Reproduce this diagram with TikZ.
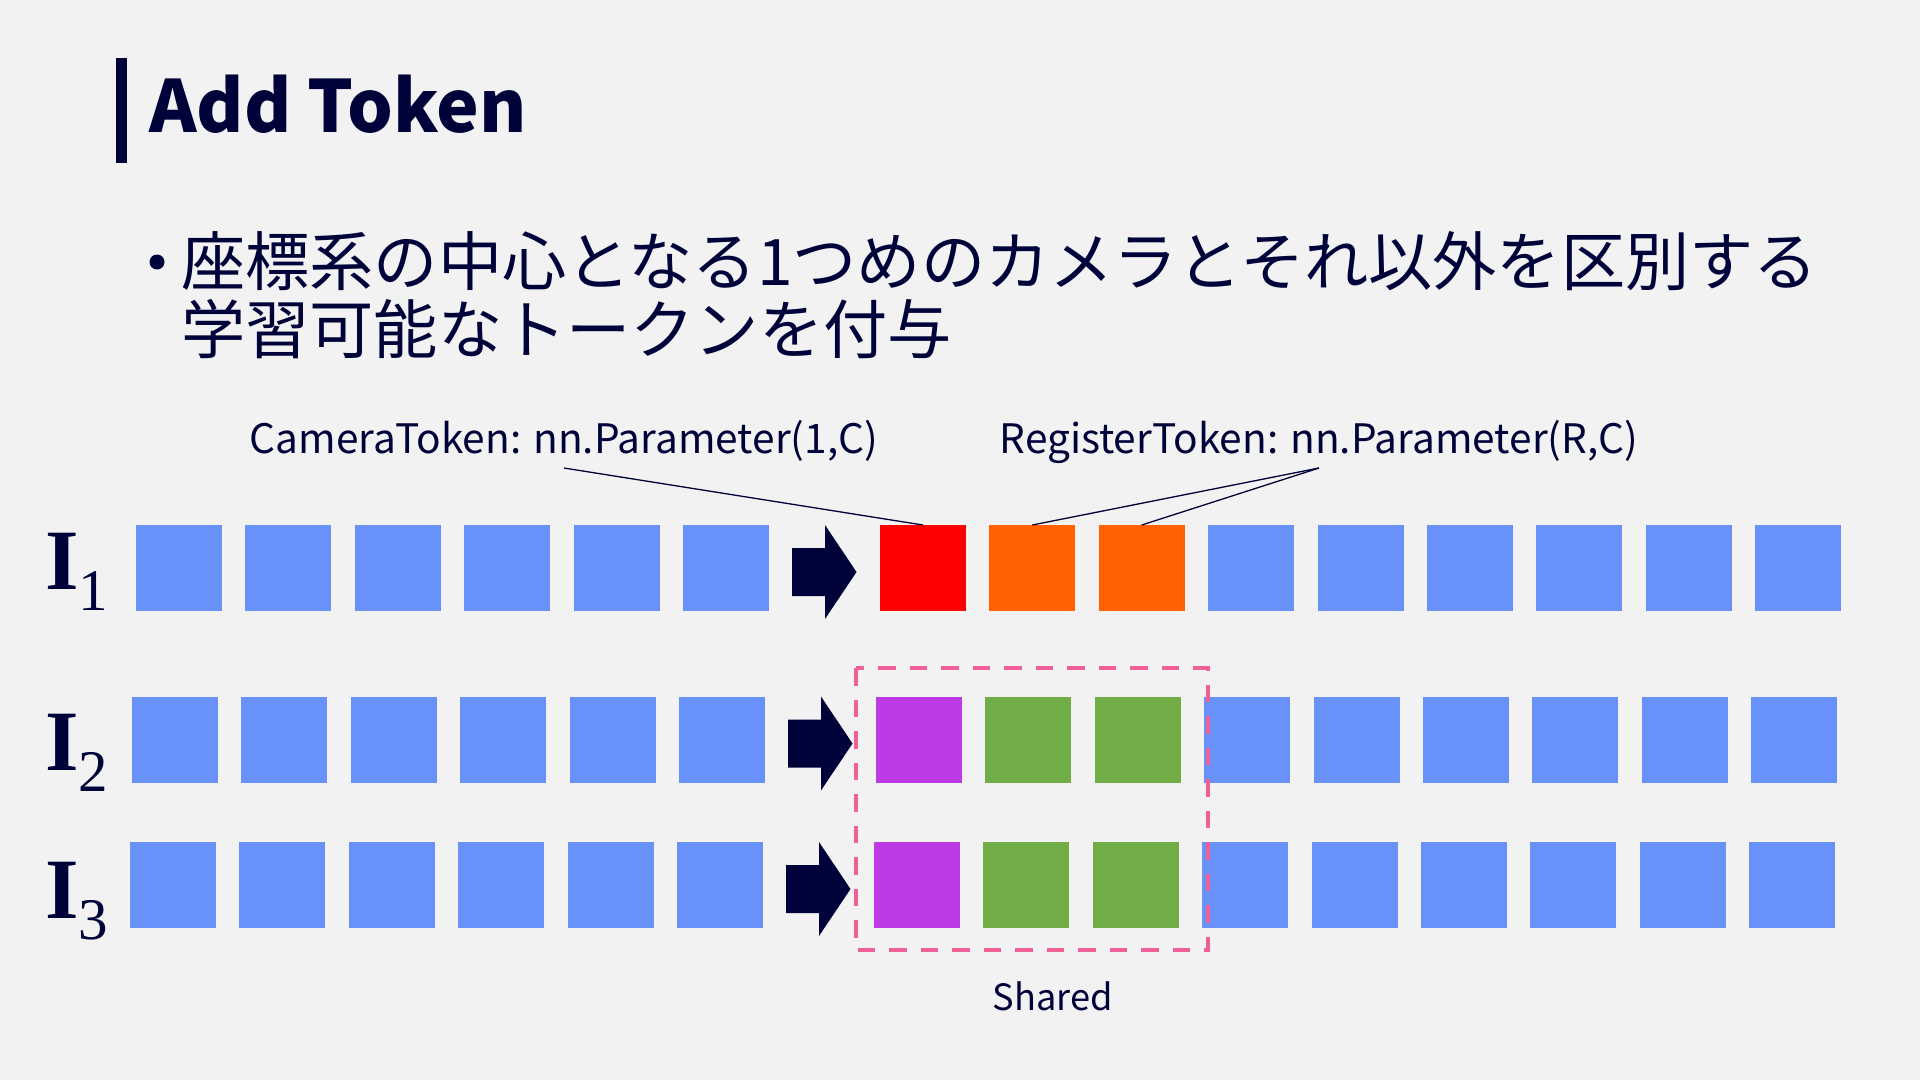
\documentclass[tikz,border=0pt]{standalone}
\usepackage{fontspec}
\setmainfont{Noto Sans CJK JP}
\newfontfamily\imgfont{Liberation Serif}
\definecolor{navy}{RGB}{0,2,58}
\definecolor{slidebg}{RGB}{242,242,242}
\definecolor{patchblue}{RGB}{104,145,250}
\definecolor{camred}{RGB}{255,0,0}
\definecolor{regorange}{RGB}{255,96,0}
\definecolor{campurple}{RGB}{190,58,228}
\definecolor{reggreen}{RGB}{112,173,71}
\definecolor{sharepink}{RGB}{240,96,152}
\tikzset{
  patch/.style={fill=#1, minimum size=86pt, inner sep=0pt, outer sep=0pt},
  lbl/.style={font=\fontsize{40.6}{48}\selectfont, text=navy, inner sep=0pt, text depth=14pt, anchor=south},
  leader/.style={draw=navy, line width=1.3pt},
  sharebox/.style={draw=sharepink, line width=4pt, dash pattern=on 17.5pt off 14pt},
}

\begin{document}
\begin{tikzpicture}[x=1pt, y=-1pt]
  \fill[slidebg] (0,0) rectangle (1920,1080);
  \useasboundingbox (0,0) rectangle (1920,1080);
  % Title
  \fill[navy] (116,57.5) rectangle (127,163);
  \node[anchor=base west, inner sep=0pt, text=navy, font=\fontsize{72}{76}\selectfont\bfseries] (title) at (149,132) {Add Token};
  % Bullet text
  \node[circle, fill=navy, minimum size=15pt, inner sep=0pt] (dot) at (157,262) {};
  \node[anchor=base west, inner sep=0pt, text=navy, font=\fontsize{64.2}{70}\selectfont] (line1) at (181,285) {座標系の中心となる1つめのカメラとそれ以外を区別する};
  \node[anchor=base west, inner sep=0pt, text=navy, font=\fontsize{64.2}{70}\selectfont] (line2) at (181,353) {学習可能なトークンを付与};
  % Token rows
  \foreach \r/\x/\y/\lb/\cam/\reg in {1/136/568/589/camred/regorange, 2/132/739.5/770/campurple/reggreen, 3/130/885/918/campurple/reggreen} {
    \node[anchor=base west, inner sep=0pt, text=navy, font=\imgfont\fontsize{86}{90}\selectfont] (I\r) at (45,\lb) {\textbf{I}\raisebox{-21pt}{\fontsize{59}{60}\selectfont\r}};
    \foreach \k in {0,...,5} {
      \node[patch=patchblue] (p\r-\k) at ({\x+43+109.4*\k},\y) {};
      \node[patch=patchblue] (q\r-\k) at ({\x+43+109.4*(\k+9.8)},\y) {};
    }
    % Arrow
    \fill[navy] ({\x+656},{\y-20}) -- ++(33,0) -- ++(0,-23) -- ++(31.5,47) -- ++(-31.5,47) -- ++(0,-23) -- ++(-33,0) -- cycle;
    \node[patch=\cam] (t\r-0) at ({\x+43+109.4*6.8},\y) {};
    \node[patch=\reg] (t\r-1) at ({\x+43+109.4*7.8},\y) {};
    \node[patch=\reg] (t\r-2) at ({\x+43+109.4*8.8},\y) {};
  }
  % Labels
  \node[lbl] (camlbl) at (564,468) {CameraToken: nn.Parameter(1,C)};
  \node[lbl] (reglbl) at (1319,468) {RegisterToken: nn.Parameter(R,C)};
  \draw[leader] (camlbl.south) -- (t1-0.north);
  \draw[leader] (reglbl.south) -- (t1-1.north);
  \draw[leader] (reglbl.south) -- (t1-2.north);
  % Shared tokens
  \draw[sharebox] (856,668) rectangle (1208,950);
  \node[anchor=base, inner sep=0pt, text=navy, font=\fontsize{36.2}{40}\selectfont] (shared) at (1052.5,1010) {Shared};
\end{tikzpicture}
\end{document}
